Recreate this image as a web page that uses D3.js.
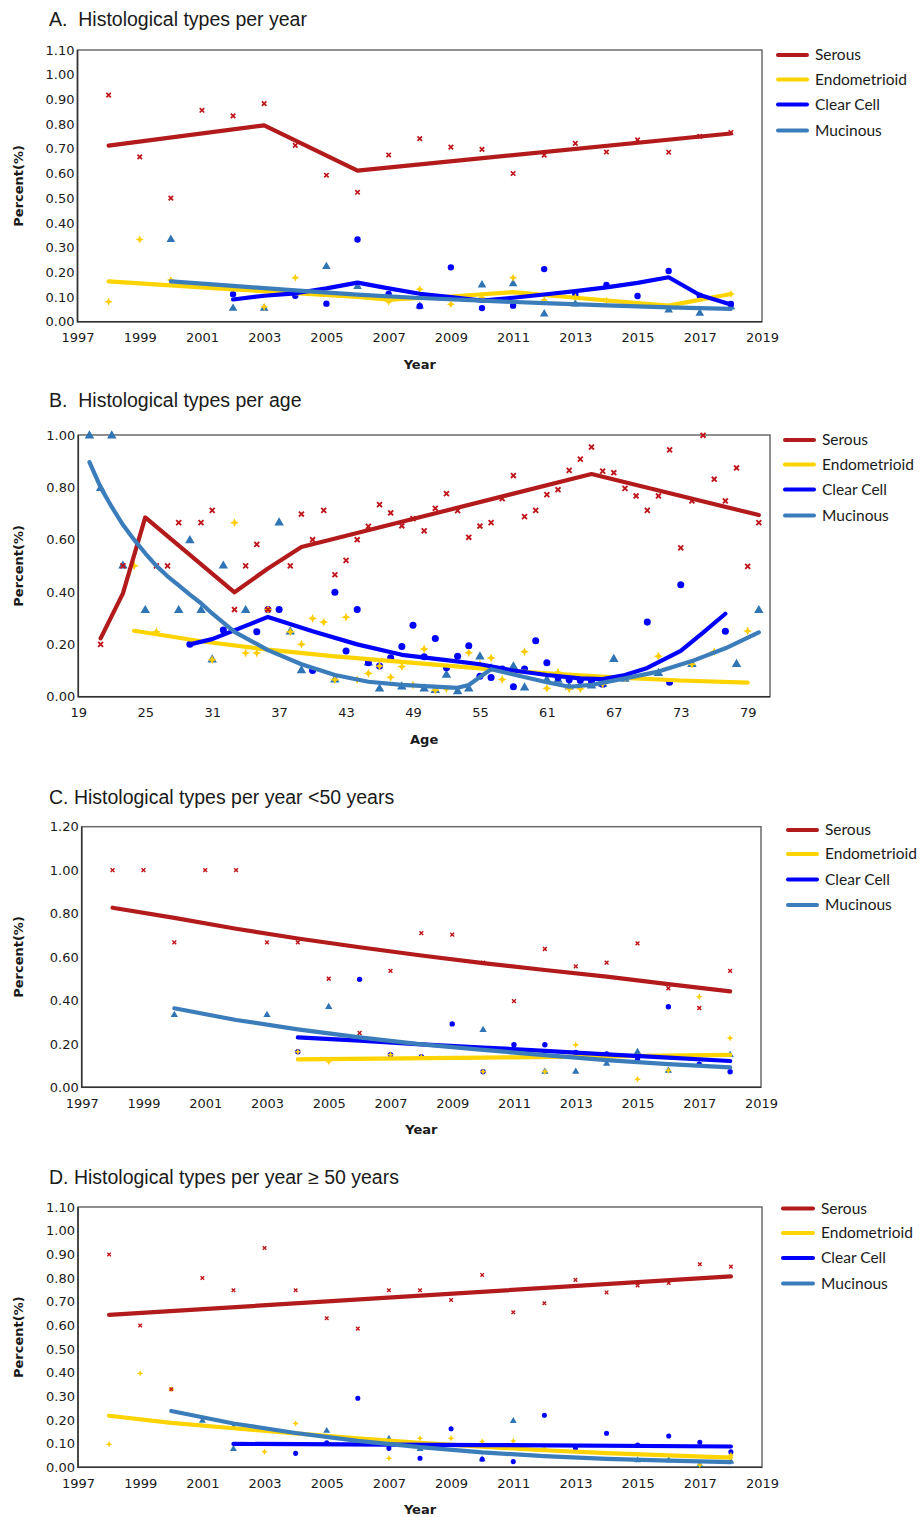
<!DOCTYPE html>
<html>
<head>
<meta charset="utf-8">
<script src="https://cdn.jsdelivr.net/npm/d3@7"></script>
<style>
  body { margin: 0; background: #fff; }
</style>
</head>
<body>
<svg id="chart" width="921" height="1517"></svg>
<script>
// ---- data ----
const seriesNames = ['Serous', 'Endometrioid', 'Clear Cell', 'Mucinous']
const yearTicks = [1997, 1999, 2001, 2003, 2005, 2007, 2009, 2011, 2013, 2015, 2017, 2019]
const ageTicks = [19, 25, 31, 37, 43, 49, 55, 61, 67, 73, 79]

// A. per year
const aSerous = [[1998,0.917],[1999,0.667],[2000,0.50],[2001,0.856],[2002,0.833],[2003,0.883],[2004,0.714],[2005,0.593],[2006,0.524],[2007,0.675],[2008,0.741],[2009,0.707],[2010,0.698],[2011,0.60],[2012,0.674],[2013,0.722],[2014,0.687],[2015,0.736],[2016,0.686],[2017,0.75],[2018,0.766]]
const aSerousFit = [[1998,0.713],[2003,0.795],[2006,0.612],[2018,0.762]]
const aEndo = [[1998,0.081],[1999,0.333],[2000,0.169],[2003,0.06],[2004,0.178],[2007,0.081],[2008,0.131],[2009,0.071],[2010,0.097],[2011,0.178],[2012,0.088],[2013,0.10],[2014,0.085],[2018,0.112]]
const aEndoFit = [[1998,0.163],[2000,0.147],[2002,0.131],[2004,0.116],[2006,0.10],[2007,0.089],[2009,0.102],[2011,0.12],[2013,0.097],[2015,0.075],[2016,0.065],[2018,0.112]]
const aClear = [[2002,0.111],[2004,0.105],[2005,0.073],[2006,0.333],[2007,0.112],[2008,0.063],[2009,0.22],[2010,0.055],[2011,0.065],[2012,0.213],[2013,0.111],[2014,0.149],[2015,0.104],[2016,0.205],[2017,0.105],[2018,0.072]]
const aClearFit = [[2002,0.09],[2003,0.105],[2004,0.115],[2005,0.135],[2006,0.158],[2007,0.135],[2008,0.113],[2009,0.10],[2010,0.085],[2011,0.097],[2012,0.11],[2013,0.124],[2014,0.139],[2015,0.157],[2016,0.18],[2017,0.108],[2018,0.07]]
const aMuc = [[2000,0.333],[2002,0.054],[2003,0.054],[2005,0.223],[2006,0.142],[2008,0.063],[2010,0.149],[2011,0.154],[2012,0.031],[2013,0.072],[2016,0.047],[2017,0.034],[2018,0.06]]
const aMucFit = [[2000,0.163],[2002,0.145],[2004,0.127],[2006,0.11],[2008,0.096],[2010,0.085],[2012,0.075],[2014,0.066],[2016,0.058],[2018,0.052]]

// B. per age
const bSerous = [[21,0.20],[23,0.50],[26,0.50],[27,0.50],[28,0.665],[30,0.665],[31,0.712],[33,0.333],[34,0.50],[35,0.582],[36,0.333],[38,0.50],[39,0.698],[40,0.60],[41,0.712],[42,0.466],[43,0.521],[44,0.60],[45,0.651],[46,0.734],[47,0.702],[48,0.653],[49,0.68],[50,0.634],[51,0.72],[52,0.776],[53,0.711],[54,0.609],[55,0.652],[56,0.665],[57,0.757],[58,0.845],[59,0.688],[60,0.712],[61,0.772],[62,0.791],[63,0.865],[64,0.908],[65,0.954],[66,0.862],[67,0.856],[68,0.796],[69,0.767],[70,0.712],[71,0.767],[72,0.943],[73,0.569],[74,0.748],[75,0.999],[76,0.831],[77,0.748],[78,0.874],[79,0.498],[80,0.665]]
const bSerousFit = [[21,0.223],[23,0.395],[25,0.685],[33,0.399],[36,0.49],[39,0.572],[65,0.851],[80,0.694]]
const bEndo = [[24,0.50],[26,0.248],[31,0.141],[33,0.665],[34,0.167],[35,0.167],[36,0.333],[38,0.248],[39,0.20],[40,0.299],[41,0.285],[42,0.065],[43,0.304],[44,0.065],[45,0.089],[46,0.117],[47,0.074],[48,0.115],[49,0.045],[50,0.182],[51,0.025],[52,0.03],[54,0.168],[55,0.124],[56,0.148],[57,0.066],[59,0.172],[61,0.032],[62,0.093],[63,0.03],[64,0.03],[66,0.048],[68,0.073],[71,0.155],[74,0.124],[76,0.172],[79,0.251]]
const bEndoFit = [[24,0.252],[30,0.212],[36,0.18],[42,0.154],[48,0.133],[55,0.108],[61,0.089],[67,0.074],[73,0.062],[79,0.054]]
const bClear = [[29,0.20],[32,0.255],[35,0.248],[36,0.333],[37,0.333],[40,0.10],[42,0.399],[43,0.175],[44,0.333],[45,0.13],[46,0.117],[47,0.149],[48,0.192],[49,0.273],[50,0.153],[51,0.222],[52,0.111],[53,0.155],[54,0.195],[55,0.078],[56,0.073],[57,0.106],[58,0.038],[59,0.106],[60,0.214],[61,0.13],[62,0.073],[63,0.065],[64,0.062],[65,0.06],[66,0.048],[70,0.285],[72,0.055],[73,0.428],[77,0.25]]
const bClearFit = [[29,0.20],[31,0.22],[36,0.305],[40,0.25],[44,0.20],[48,0.16],[52,0.14],[55,0.124],[58,0.10],[61,0.083],[64,0.07],[66,0.067],[68,0.083],[70,0.11],[73,0.175],[75,0.245],[77,0.317]]
const bMuc = [[20,0.997],[21,0.796],[22,0.997],[23,0.50],[25,0.33],[28,0.33],[29,0.597],[30,0.33],[31,0.141],[32,0.50],[34,0.33],[37,0.665],[38,0.248],[39,0.10],[42,0.065],[45,0.13],[46,0.03],[48,0.038],[50,0.03],[51,0.025],[52,0.083],[53,0.02],[54,0.03],[55,0.153],[56,0.108],[58,0.115],[59,0.034],[61,0.064],[62,0.064],[63,0.038],[65,0.042],[66,0.048],[67,0.143],[68,0.068],[71,0.09],[74,0.124],[78,0.124],[80,0.33]]
const bMucFit = [[20,0.896],[21,0.80],[22,0.725],[23,0.657],[24,0.60],[25,0.548],[26,0.50],[27,0.46],[28,0.425],[29,0.39],[30,0.357],[31,0.318],[33,0.248],[36,0.178],[39,0.124],[42,0.083],[45,0.057],[48,0.045],[53,0.034],[54,0.045],[55,0.075],[56,0.105],[58,0.085],[61,0.055],[63,0.038],[65,0.045],[68,0.07],[71,0.096],[74,0.136],[77,0.185],[80,0.246]]

// C. per year <50 years
const cSerous = [[1998,1.0],[1999,1.0],[2000,0.667],[2001,1.0],[2002,1.0],[2003,0.667],[2004,0.667],[2005,0.50],[2006,0.25],[2007,0.536],[2008,0.71],[2009,0.703],[2010,0.574],[2011,0.397],[2012,0.637],[2013,0.557],[2014,0.574],[2015,0.663],[2016,0.456],[2017,0.365],[2018,0.536]]
const cSerousFit = [[1998,0.827],[2000,0.78],[2002,0.73],[2004,0.685],[2006,0.645],[2008,0.607],[2010,0.572],[2012,0.54],[2014,0.51],[2016,0.475],[2018,0.442]]
const cEndo = [[2004,0.164],[2005,0.118],[2007,0.15],[2008,0.141],[2010,0.072],[2012,0.072],[2013,0.196],[2015,0.037],[2016,0.077],[2017,0.417],[2018,0.227]]
const cEndoFit = [[2004,0.129],[2011,0.138],[2018,0.149]]
const cClear = [[2004,0.164],[2006,0.497],[2007,0.15],[2008,0.141],[2009,0.292],[2010,0.072],[2011,0.196],[2012,0.196],[2013,0.16],[2014,0.153],[2015,0.129],[2016,0.371],[2017,0.106],[2018,0.072]]
const cClearFit = [[2004,0.23],[2006,0.215],[2008,0.198],[2010,0.183],[2012,0.168],[2014,0.152],[2016,0.137],[2018,0.121]]
const cMuc = [[2000,0.333],[2003,0.333],[2005,0.37],[2010,0.264],[2012,0.072],[2013,0.072],[2014,0.109],[2015,0.163],[2016,0.077],[2018,0.149]]
const cMucFit = [[2000,0.364],[2002,0.31],[2004,0.267],[2006,0.23],[2008,0.198],[2010,0.172],[2012,0.148],[2014,0.125],[2016,0.107],[2018,0.092]]

// D. per year >= 50 years
const dSerous = [[1998,0.899],[1999,0.599],[2000,0.33],[2001,0.80],[2002,0.748],[2003,0.927],[2004,0.748],[2005,0.63],[2006,0.586],[2007,0.748],[2008,0.748],[2009,0.707],[2010,0.813],[2011,0.655],[2012,0.693],[2013,0.792],[2014,0.739],[2015,0.768],[2016,0.779],[2017,0.858],[2018,0.848]]
const dSerousFit = [[1998,0.644],[2018,0.807]]
const dEndo = [[1998,0.097],[1999,0.397],[2000,0.33],[2003,0.066],[2004,0.185],[2007,0.038],[2008,0.123],[2009,0.123],[2010,0.109],[2011,0.111],[2012,0.08],[2017,0.01],[2018,0.052]]
const dEndoFit = [[1998,0.218],[2000,0.188],[2002,0.165],[2004,0.143],[2006,0.122],[2008,0.103],[2010,0.087],[2012,0.072],[2014,0.06],[2016,0.05],[2018,0.041]]
const dClear = [[2004,0.059],[2005,0.104],[2006,0.292],[2007,0.08],[2008,0.038],[2009,0.163],[2010,0.034],[2011,0.024],[2012,0.22],[2013,0.08],[2014,0.144],[2015,0.094],[2016,0.132],[2017,0.106],[2018,0.065]]
const dClearFit = [[2002,0.099],[2010,0.094],[2018,0.088]]
const dMuc = [[2001,0.197],[2002,0.077],[2002,0.17],[2005,0.154],[2007,0.121],[2008,0.077],[2010,0.034],[2011,0.196],[2015,0.03],[2016,0.03],[2017,0.01],[2018,0.024]]
const dMucFit = [[2000,0.238],[2002,0.185],[2004,0.145],[2006,0.112],[2008,0.085],[2010,0.063],[2012,0.047],[2014,0.036],[2016,0.028],[2018,0.022]]

// ---- styles ----
const lineColors = ['#b21a1c', '#fdd300', '#0000ff', '#3b7dbb']
const markColors = ['#c0141a', '#ffcc00', '#0000ff', '#2f74b5']

const star4 = {
  draw(ctx, size) {
    const r = Math.sqrt(size) / 2 * 1.4
    const i = r * 0.3
    ctx.moveTo(0, -r); ctx.lineTo(i, -i); ctx.lineTo(r, 0); ctx.lineTo(i, i)
    ctx.lineTo(0, r); ctx.lineTo(-i, i); ctx.lineTo(-r, 0); ctx.lineTo(-i, -i)
    ctx.closePath()
  }
}
const times = {
  draw(ctx, size) {
    const r = Math.sqrt(size) / 2
    ctx.moveTo(-r, -r); ctx.lineTo(r, r)
    ctx.moveTo(r, -r); ctx.lineTo(-r, r)
  }
}
const markTypes = [times, star4, d3.symbolCircle, d3.symbolTriangle]
const markSizes = [20, 34, 32, 32]

const panels = [
  { title: 'A.  Histological types per year', titleY: 26, left: 77.5, right: 762, top: 50, bottom: 321.7,
    xDomain: [1997, 2019], xTicks: yearTicks, yMax: 1.1, yStep: 0.1, xLabel: 'Year', mscale: 1,
    legend: { x1: 778, x2: 807, tx: 815, ys: [55, 79.5, 104.5, 130.5] },
    points: [aSerous, aEndo, aClear, aMuc], fits: [aSerousFit, aEndoFit, aClearFit, aMucFit] },
  { title: 'B.  Histological types per age', titleY: 407, left: 78.3, right: 770, top: 435, bottom: 696.7,
    xDomain: [19, 81], xTicks: ageTicks, yMax: 1.0, yStep: 0.2, xLabel: 'Age', mscale: 1.1,
    legend: { x1: 785, x2: 814, tx: 822, ys: [440, 464.5, 489.5, 515.5] },
    points: [bSerous, bEndo, bClear, bMuc], fits: [bSerousFit, bEndoFit, bClearFit, bMucFit] },
  { title: 'C. Histological types per year <50 years', titleY: 804, left: 81.7, right: 761, top: 826.7, bottom: 1087.3,
    xDomain: [1997, 2019], xTicks: yearTicks, yMax: 1.2, yStep: 0.2, xLabel: 'Year', mscale: 0.85,
    legend: { x1: 788, x2: 817, tx: 825, ys: [830, 854, 879.5, 905] },
    points: [cSerous, cEndo, cClear, cMuc], fits: [cSerousFit, cEndoFit, cClearFit, cMucFit] },
  { title: 'D. Histological types per year \u2265 50 years', titleY: 1184, left: 78, right: 762, top: 1207, bottom: 1467.3,
    xDomain: [1997, 2019], xTicks: yearTicks, yMax: 1.1, yStep: 0.1, xLabel: 'Year', mscale: 0.8,
    legend: { x1: 783, x2: 813, tx: 821, ys: [1208.5, 1233, 1258, 1283.5] },
    points: [dSerous, dEndo, dClear, dMuc], fits: [dSerousFit, dEndoFit, dClearFit, dMucFit] }
]

const svg = d3.select('#chart')

panels.forEach(p => {
  const g = svg.append('g')
  const x = d3.scaleLinear().domain(p.xDomain).range([p.left, p.right])
  const y = d3.scaleLinear().domain([0, p.yMax]).range([p.bottom, p.top])

  g.append('text')
    .attr('x', 49).attr('y', p.titleY)
    .style('font-family', '"Liberation Sans", Arial, sans-serif')
    .style('font-size', '19.5px')
    .style('white-space', 'pre')
    .attr('fill', '#1a1a1a')
    .text(p.title)

  const yTickVals = d3.range(0, p.yMax + 1e-9, p.yStep).map(v => +v.toFixed(2))
  const yAxis = d3.axisLeft(y).tickValues(yTickVals).tickSize(0).tickPadding(3).tickFormat(d3.format('.2f'))
  const xAxis = d3.axisBottom(x).tickValues(p.xTicks).tickSize(0).tickPadding(11).tickFormat(d3.format('d'))

  g.append('g').attr('transform', `translate(${p.left},0)`).call(yAxis)
  g.append('g').attr('transform', `translate(0,${p.bottom})`).call(xAxis)
  g.selectAll('.domain').remove()
  g.selectAll('.tick text')
    .style('font-family', '"DejaVu Sans", Verdana, sans-serif')
    .style('font-size', '13px')
    .attr('fill', '#1a1a1a')

  // frame
  g.append('rect')
    .attr('x', p.left).attr('y', p.top)
    .attr('width', p.right - p.left).attr('height', p.bottom - p.top)
    .attr('fill', 'none').attr('stroke', '#6a6a6a').attr('stroke-width', 1.5)
  g.append('path')
    .attr('d', `M${p.left},${p.top}V${p.bottom}H${p.right}`)
    .attr('fill', 'none').attr('stroke', '#333').attr('stroke-width', 1.5)

  // axis titles
  g.append('text')
    .attr('transform', `translate(${18 + 4.5},${(p.top + p.bottom) / 2}) rotate(-90)`)
    .attr('text-anchor', 'middle')
    .style('font-family', '"DejaVu Sans", Verdana, sans-serif')
    .style('font-size', '13px').style('font-weight', 'bold')
    .attr('fill', '#1a1a1a')
    .text('Percent(%)')
  g.append('text')
    .attr('x', (p.left + p.right) / 2).attr('y', p.bottom + 47)
    .attr('text-anchor', 'middle')
    .style('font-family', '"DejaVu Sans", Verdana, sans-serif')
    .style('font-size', '13px').style('font-weight', 'bold')
    .attr('fill', '#1a1a1a')
    .text(p.xLabel)

  // markers: triangles, circles, stars, crosses
  const order = [3, 2, 1, 0]
  order.forEach(si => {
    const sym = d3.symbol().type(markTypes[si]).size(markSizes[si] * p.mscale * p.mscale)
    g.append('g').selectAll('path')
      .data(p.points[si])
      .join('path')
      .attr('transform', d => `translate(${x(d[0])},${y(d[1])})`)
      .attr('d', sym)
      .attr('fill', si === 0 ? 'none' : markColors[si])
      .attr('stroke', si === 0 ? markColors[si] : 'none')
      .attr('stroke-width', si === 0 ? 1.7 * p.mscale : 0)
  })

  // fit lines
  const line = d3.line().x(d => x(d[0])).y(d => y(d[1]))
  ;[0, 1, 2, 3].forEach(si => {
    g.append('path')
      .datum(p.fits[si])
      .attr('d', line)
      .attr('fill', 'none')
      .attr('stroke', lineColors[si])
      .attr('stroke-width', 4.2)
      .attr('stroke-linejoin', 'round')
      .attr('stroke-linecap', 'round')
  })

  // legend
  seriesNames.forEach((name, si) => {
    const ly = p.legend.ys[si]
    g.append('line')
      .attr('x1', p.legend.x1).attr('x2', p.legend.x2)
      .attr('y1', ly).attr('y2', ly)
      .attr('stroke', lineColors[si]).attr('stroke-width', 4)
      .attr('stroke-linecap', 'round')
    g.append('text')
      .attr('x', p.legend.tx).attr('y', ly)
      .attr('dy', '0.35em')
      .style('font-family', 'Lato, "Open Sans", sans-serif')
      .style('font-size', '15.5px')
      .attr('fill', '#1a1a1a')
      .text(name)
  })
})
</script>
</body>
</html>
